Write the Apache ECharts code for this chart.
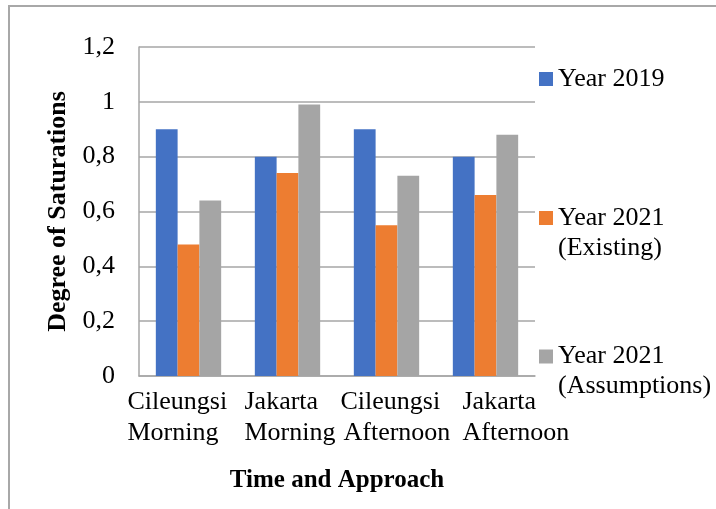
<!DOCTYPE html>
<html>
<head>
<meta charset="utf-8">
<script src="https://cdn.jsdelivr.net/npm/echarts@6/dist/echarts.min.js"></script>
<style>
  html, body { margin: 0; padding: 0; background: #ffffff; }
  #chart { width: 716px; height: 509px; }
</style>
</head>
<body>
<div id="chart"></div>
<script>
// Degree of saturation per approach and period
const categories = [
  ['Cileungsi', 'Morning'],
  ['Jakarta', 'Morning'],
  ['Cileungsi', 'Afternoon'],
  ['Jakarta', 'Afternoon']
];
const seriesNames = ['Year 2019', 'Year 2021 (Existing)', 'Year 2021 (Assumptions)'];
const year2019 = [0.90, 0.80, 0.90, 0.80];
const year2021Existing = [0.48, 0.74, 0.55, 0.66];
const year2021Assumptions = [0.64, 0.99, 0.73, 0.88];
const yTickLabels = ['0', '0,2', '0,4', '0,6', '0,8', '1', '1,2'];

const SERIF = '"Liberation Serif", "Times New Roman", serif';
const colors = ['#4472C4', '#ED7D31', '#A5A5A5'];
const gridColor = '#a6a6a6';
const LABEL_FONT = 26;
const LABEL_LINE = 31;

// Category labels: every line is a fixed-width row (lead + text + tail) so the block is
// centred on the tick while each line starts at its own horizontal offset.
const ROW_WIDTH = 300;
const TEXT_SLOT = 120;
const lineLeads = [[89, 89], [107, 107], [104, 107], [127, 127]];
const labelRich = {
  t: { width: TEXT_SLOT, align: 'left', fontFamily: SERIF, fontSize: LABEL_FONT, lineHeight: LABEL_LINE, color: '#000' }
};
lineLeads.forEach((leads, ci) => {
  leads.forEach((lead, li) => {
    labelRich['l' + ci + '_' + li] = { width: lead, align: 'left', fontSize: LABEL_FONT, lineHeight: LABEL_LINE };
    labelRich['r' + ci + '_' + li] = { width: ROW_WIDTH - lead - TEXT_SLOT, align: 'left', fontSize: LABEL_FONT, lineHeight: LABEL_LINE };
  });
});

const chart = echarts.init(document.getElementById('chart'), null, { renderer: 'canvas' });

// One legend per series so each entry sits at its own height.
// Two-line entries get a blank leading line so the marker lines up with the first text line.
function legendFor(idx, top) {
  return {
    show: true,
    data: [seriesNames[idx]],
    left: 539,
    top: top,
    padding: 0,
    orient: 'vertical',
    itemWidth: 14,
    itemHeight: 14,
    icon: 'rect',
    selectedMode: false,
    formatter: name => (name.indexOf(' (') >= 0 ? ' \n' + name.replace(' (', '\n(') : name),
    textStyle: {
      fontFamily: SERIF, fontSize: 26, color: '#000', lineHeight: 30
    }
  };
}

chart.setOption({
  animation: false,
  backgroundColor: '#ffffff',
  color: colors,
  graphic: [{
    type: 'rect',
    shape: { x: 9, y: 6, width: 800, height: 600 },
    style: { fill: 'none', stroke: '#a8a8a8', lineWidth: 2 },
    silent: true
  }],
  grid: { left: 139, top: 47, right: 181, bottom: 133 },
  legend: [legendFor(0, 64), legendFor(1, 173), legendFor(2, 311.5)],
  xAxis: {
    type: 'category',
    data: categories.map(c => c.join('\n')),
    axisLine: { show: true, lineStyle: { color: gridColor, width: 1.5 } },
    axisTick: { show: false },
    axisLabel: {
      interval: 0,
      margin: 11,
      align: 'center',
      formatter: (value, index) => value.split('\n')
        .map((p, li) => '{l' + index + '_' + li + '| }{t|' + p + '}{r' + index + '_' + li + '| }')
        .join('\n'),
      rich: labelRich
    },
    name: 'Time and Approach',
    nameLocation: 'middle',
    nameGap: 92,
    nameTextStyle: {
      fontFamily: SERIF, fontSize: 25, fontWeight: 'bold', color: '#000'
    }
  },
  yAxis: {
    type: 'value',
    min: 0,
    max: 1.2,
    interval: 0.2,
    axisLine: { show: true, lineStyle: { color: gridColor, width: 1.5 } },
    axisTick: { show: false },
    splitLine: { show: true, lineStyle: { color: gridColor, width: 1.5 } },
    axisLabel: {
      margin: 24,
      fontFamily: SERIF, fontSize: 26, color: '#000',
      formatter: (value, index) => yTickLabels[index]
    },
    name: 'Degree of Saturations',
    nameLocation: 'middle',
    nameRotate: 90,
    nameGap: 61,
    nameTextStyle: {
      fontFamily: SERIF, fontSize: 26, fontWeight: 'bold', color: '#000'
    }
  },
  series: [
    { name: seriesNames[0], type: 'bar', data: year2019, barGap: 0, barCategoryGap: '34%' },
    { name: seriesNames[1], type: 'bar', data: year2021Existing, barGap: 0, barCategoryGap: '34%' },
    { name: seriesNames[2], type: 'bar', data: year2021Assumptions, barGap: 0, barCategoryGap: '34%' }
  ]
});
</script>
</body>
</html>
